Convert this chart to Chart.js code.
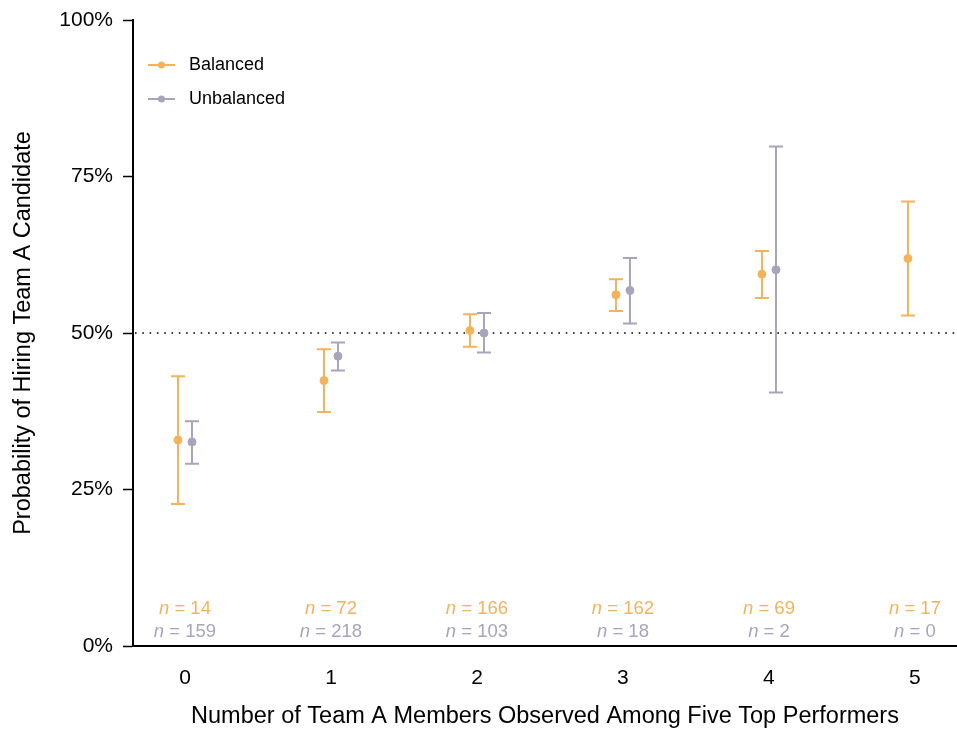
<!DOCTYPE html>
<html>
<head>
<meta charset="utf-8">
<script src="https://cdn.jsdelivr.net/npm/chart.js@4.4.1/dist/chart.umd.min.js"></script>
<style>
  html, body { margin: 0; padding: 0; background: #fff; }
  #wrap { width: 957px; height: 730px; }
</style>
</head>
<body>
<div id="wrap"><canvas id="chart"></canvas></div>
<script>
// number of Team A members among the five top performers
const groups = [0, 1, 2, 3, 4, 5];

// estimated hiring probability (%) with confidence bounds
const balancedMean = [32.9, 42.4, 50.4, 56.1, 59.4, 61.9];
const balancedLow  = [22.7, 37.4, 47.8, 53.5, 55.6, 52.8];
const balancedHigh = [43.1, 47.4, 53.0, 58.6, 63.1, 71.0];

const unbalancedMean = [32.6, 46.3, 50.0, 56.8, 60.1, null];
const unbalancedLow  = [29.1, 44.0, 46.9, 51.5, 40.5, null];
const unbalancedHigh = [35.9, 48.5, 53.2, 62.0, 79.8, null];

// sample sizes per group
const balancedN   = [14, 72, 166, 162, 69, 17];
const unbalancedN = [159, 218, 103, 18, 2, 0];

const yTicks = [0, 25, 50, 75, 100];

const ORANGE = "#F3B35C";
const PURPLE = "#A9A3BB";
const FONT = "'Liberation Sans', Arial, Helvetica, sans-serif";
const dodge = 0.048;

function pts(means, shift) {
    return groups
        .map((g, i) => ({ x: g + shift, y: means[i] }))
        .filter(p => p.y != null);
}

// error bars, 50% reference line, sample-size labels and legend
const extras = {
    id: "extras",
    beforeDatasetsDraw(chart) {
        const ctx = chart.ctx, xs = chart.scales.x, ys = chart.scales.y, a = chart.chartArea;
        ctx.save();
        // dotted line at 50%
        ctx.strokeStyle = "#000";
        ctx.lineWidth = 1.6;
        ctx.setLineDash([1.6, 5.7]);
        ctx.beginPath();
        ctx.moveTo(a.left + 2, ys.getPixelForValue(50));
        ctx.lineTo(a.right, ys.getPixelForValue(50));
        ctx.stroke();
        ctx.setLineDash([]);

        const series = [
            [balancedLow, balancedHigh, -dodge, ORANGE],
            [unbalancedLow, unbalancedHigh, dodge, PURPLE]
        ];
        ctx.lineWidth = 2;
        series.forEach(([lo, hi, shift, col]) => {
            ctx.strokeStyle = col;
            groups.forEach((g, i) => {
                if (lo[i] == null) return;
                const x = xs.getPixelForValue(g + shift);
                const y1 = ys.getPixelForValue(lo[i]);
                const y2 = ys.getPixelForValue(hi[i]);
                ctx.beginPath();
                ctx.moveTo(x, y1); ctx.lineTo(x, y2);
                ctx.moveTo(x - 7, y1); ctx.lineTo(x + 7, y1);
                ctx.moveTo(x - 7, y2); ctx.lineTo(x + 7, y2);
                ctx.stroke();
            });
        });
        ctx.restore();
    },
    afterDatasetsDraw(chart) {
        const ctx = chart.ctx, xs = chart.scales.x, a = chart.chartArea;
        ctx.save();
        ctx.textBaseline = "middle";
        const size = 18.5;
        const rows = [[balancedN, ORANGE, a.bottom - 37], [unbalancedN, PURPLE, a.bottom - 14]];
        rows.forEach(([ns, col, y]) => {
            ctx.fillStyle = col;
            groups.forEach((g, i) => {
                const x = xs.getPixelForValue(g);
                const p1 = "n";
                const p2 = " = " + ns[i];
                ctx.font = "italic " + size + "px " + FONT;
                const w1 = ctx.measureText(p1).width;
                ctx.font = size + "px " + FONT;
                const w2 = ctx.measureText(p2).width;
                const x0 = x - (w1 + w2) / 2;
                ctx.textAlign = "left";
                ctx.font = "italic " + size + "px " + FONT;
                ctx.fillText(p1, x0, y);
                ctx.font = size + "px " + FONT;
                ctx.fillText(p2, x0 + w1, y);
            });
        });

        // legend
        const items = [["Balanced", ORANGE, a.top + 45], ["Unbalanced", PURPLE, a.top + 79]];
        items.forEach(([label, col, y]) => {
            const lx = a.left + 15;
            ctx.strokeStyle = col;
            ctx.fillStyle = col;
            ctx.lineWidth = 2;
            ctx.beginPath();
            ctx.moveTo(lx, y); ctx.lineTo(lx + 27, y);
            ctx.stroke();
            ctx.beginPath();
            ctx.arc(lx + 13.5, y, 3.5, 0, Math.PI * 2);
            ctx.fill();
            ctx.fillStyle = "#000";
            ctx.font = "18px " + FONT;
            ctx.textAlign = "left";
            ctx.fillText(label, lx + 41, y);
        });
        ctx.restore();
    }
};

new Chart(document.getElementById("chart"), {
    type: "scatter",
    data: {
        datasets: [
            { label: "Balanced", data: pts(balancedMean, -dodge), backgroundColor: ORANGE, borderColor: ORANGE, pointRadius: 4, pointHoverRadius: 4 },
            { label: "Unbalanced", data: pts(unbalancedMean, dodge), backgroundColor: PURPLE, borderColor: PURPLE, pointRadius: 4, pointHoverRadius: 4 }
        ]
    },
    options: {
        responsive: true,
        maintainAspectRatio: false,
        animation: false,
        layout: { autoPadding: false, padding: { top: 20, right: 0, bottom: 0, left: 0 } },
        plugins: { legend: { display: false }, tooltip: { enabled: false } },
        scales: {
            x: {
                type: "linear",
                min: -0.356,
                max: 5.288,
                afterBuildTicks: s => { s.ticks = groups.map(v => ({ value: v })); },
                afterFit: s => { s.height = 84; s.paddingLeft = 0; s.paddingRight = 0; },
                grid: { display: false, drawTicks: false },
                border: { display: true, color: "#000", width: 2 },
                ticks: { color: "#000", font: { family: FONT, size: 21 }, padding: 20, maxRotation: 0 },
                title: {
                    display: true,
                    text: "Number of Team A Members Observed Among Five Top Performers",
                    color: "#000",
                    font: { family: FONT, size: 23.5, lineHeight: 1.0 },
                    padding: { top: 0, bottom: 2 }
                }
            },
            y: {
                min: 0,
                max: 100,
                afterBuildTicks: s => { s.ticks = yTicks.map(v => ({ value: v })); },
                afterFit: s => { s.width = 133; s.paddingTop = 0; s.paddingBottom = 0; },
                grid: { drawOnChartArea: false, drawTicks: true, tickLength: 10, color: "#000", tickWidth: 1.5 },
                border: { display: true, color: "#000", width: 2 },
                ticks: { color: "#000", font: { family: FONT, size: 21 }, padding: 10, callback: v => v + "%" },
                title: {
                    display: true,
                    text: "Probability of Hiring Team A Candidate",
                    color: "#000",
                    font: { family: FONT, size: 23.5 },
                    padding: { top: 9, bottom: 0 }
                }
            }
        }
    },
    plugins: [extras]
});
</script>
</body>
</html>
